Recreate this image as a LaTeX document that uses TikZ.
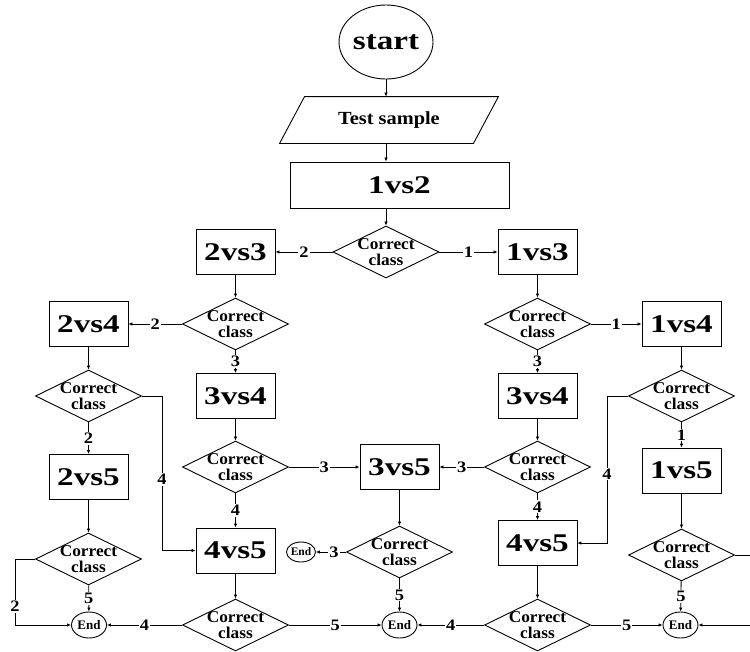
\documentclass[tikz,border=0pt]{standalone}
\usepackage{fontspec}
\setmainfont{Liberation Serif}
\usetikzlibrary{shapes.geometric,arrows.meta}
\newcommand{\hs}[2]{\scalebox{#1}[1]{#2}}
\newcommand{\bt}[1]{\hs{1.3}{#1}}
\newcommand{\lb}[1]{\hs{1.15}{#1}}
\begin{document}
\begin{tikzpicture}[x=1pt,y=-1pt,
  line width=0.9pt,
  arr/.style={-{Latex[length=4pt,width=3.5pt]}},
  box/.style={draw,rectangle,minimum width=79pt,minimum height=45pt,inner sep=0pt,font=\fontsize{25.5}{25.5}\selectfont\bfseries},
  dia/.style={draw,diamond,minimum width=106pt,minimum height=52pt,inner sep=0pt,
    label={[dt]center:\hs{1.05}{Correct}\\\hs{1.05}{class}}},
  dt/.style={font=\fontsize{16.5}{16.5}\selectfont\bfseries,align=center,inner sep=0pt},
  endn/.style={draw,ellipse,minimum width=35pt,minimum height=26pt,inner sep=0pt,font=\fontsize{13}{13}\selectfont\bfseries},
  lab/.style={fill=white,inner sep=1pt,font=\fontsize{16}{16}\selectfont\bfseries}
]
\useasboundingbox (0,0) rectangle (750,651);

% top
\node[draw,ellipse,minimum width=94pt,minimum height=74pt,inner sep=0pt,
  font=\fontsize{26.5}{26.5}\selectfont\bfseries] (st) at (386,42) {\hs{1.25}{start}};
\node[minimum width=193pt,minimum height=46pt,inner sep=0pt,
  font=\fontsize{18.5}{18.5}\selectfont\bfseries] (ts) at (389,120) {\hs{1.1}{Test sample}};
\draw ([xshift=-12.5pt]ts.south west) -- ([xshift=-12.5pt]ts.south east)
  -- ([xshift=12.5pt]ts.north east) -- ([xshift=12.5pt]ts.north west) -- cycle;
\node[box,minimum width=219pt,minimum height=46pt] (b12) at (399.5,185) {\bt{1vs2}};

% row A
\node[dia] (d1) at (386,252) {};
\node[box] (b23) at (235.5,252) {\bt{2vs3}};
\node[box] (b13) at (537.5,252) {\bt{1vs3}};

% row B
\node[dia] (d2) at (235.5,324) {};
\node[box] (b24) at (88.5,324) {\bt{2vs4}};
\node[dia] (d7) at (537.5,324) {};
\node[box] (b14) at (681.5,324) {\bt{1vs4}};

% row C
\node[box] (b34L) at (235.5,396) {\bt{3vs4}};
\node[box] (b34R) at (537.5,396) {\bt{3vs4}};
\node[dia] (d3) at (88.5,396) {};
\node[dia] (d8) at (681.5,396) {};

% row D
\node[box] (b25) at (88.5,477) {\bt{2vs5}};
\node[box] (b15) at (681.5,470.5) {\bt{1vs5}};
\node[dia] (d5) at (235.5,467) {};
\node[box] (b35) at (399.5,467) {\bt{3vs5}};
\node[dia] (d10) at (537.5,467) {};

% row E
\node[dia] (d4) at (88.5,559) {};
\node[box] (b45L) at (235.5,550.5) {\bt{4vs5}};
\node[dia] (d11) at (399.5,552) {};
\node[endn,minimum width=27pt,minimum height=20pt,font=\fontsize{11.5}{11.5}\selectfont\bfseries] (e4) at (301,552) {End};
\node[box] (b45R) at (537.5,543) {\bt{4vs5}};
\node[dia] (d9) at (681.5,555) {};

% bottom row
\node[endn] (e1) at (89,625) {End};
\node[dia] (d6) at (235.5,625) {};
\node[endn] (e2) at (399.5,625) {End};
\node[dia] (d12) at (537.5,625) {};
\node[endn] (e3) at (680.5,625) {End};

\coordinate (rx1) at (750,555);
\coordinate (rx2) at (750,625);

% connectors
\draw[arr] (st.south) -- (st.south |- ts.north);
\draw[arr] (st.south |- ts.south) -- (st.south |- b12.north);
\draw[arr] (d1.north |- b12.south) -- (d1.north);
\draw[arr] (d1) -- node[lab]{\lb{2}} (b23);
\draw[arr] (d1) -- node[lab]{\lb{1}} (b13);

\draw[arr] (b23) -- (d2);
\draw[arr] (d2) -- node[lab]{\lb{2}} (b24);
\draw[arr] (d2) -- node[lab]{\lb{3}} (b34L);
\draw[arr] (b13) -- (d7);
\draw[arr] (d7) -- node[lab]{\lb{1}} (b14);
\draw[arr] (d7) -- node[lab]{\lb{3}} (b34R);

\draw[arr] (b24) -- (d3);
\draw[arr] (d3) -- node[lab]{\lb{2}} (b25);
\draw[arr] (d3.east) -- ++(20,0) |- node[lab,pos=0.27]{\lb{4}} (b45L.west);
\draw[arr] (b25) -- (d4);
\draw[arr] (d4) -- node[lab]{\lb{5}} (e1);
\draw[arr] (d4.west) -- ++(-20,0) |- node[lab,pos=0.36]{\lb{2}} (e1.west);

\draw[arr] (b34L) -- (d5);
\draw[arr] (d5) -- node[lab]{\lb{3}} (b35);
\draw[arr] (d5) -- node[lab]{\lb{4}} (b45L);
\draw[arr] (b45L) -- (d6);
\draw[arr] (d6) -- node[lab]{\lb{4}} (e1);
\draw[arr] (d6) -- node[lab]{\lb{5}} (e2);

\draw[arr] (b35) -- (d11);
\draw[arr] (d11) -- node[lab,pos=0.4]{\lb{3}} (e4);
\draw[arr] (d11) -- node[lab]{\lb{5}} (e2);

\draw[arr] (b34R) -- (d10);
\draw[arr] (d10) -- node[lab]{\lb{3}} (b35);
\draw[arr] (d10) -- node[lab]{\lb{4}} (b45R);
\draw[arr] (b45R) -- (d12);
\draw[arr] (d12) -- node[lab]{\lb{4}} (e2);
\draw[arr] (d12) -- node[lab]{\lb{5}} (e3);

\draw[arr] (b14) -- (d8);
\draw[arr] (d8) -- node[lab]{\lb{1}} (b15);
\draw[arr] (d8.west) -- ++(-21,0) |- node[lab,pos=0.265]{\lb{4}} (b45R.east);
\draw[arr] (b15) -- (d9);
\draw[arr] (d9) -- node[lab]{\lb{5}} (e3);
\draw (d9.east) -- (rx1);
\draw[arr] (rx2) -- (e3);
\end{tikzpicture}
\end{document}
